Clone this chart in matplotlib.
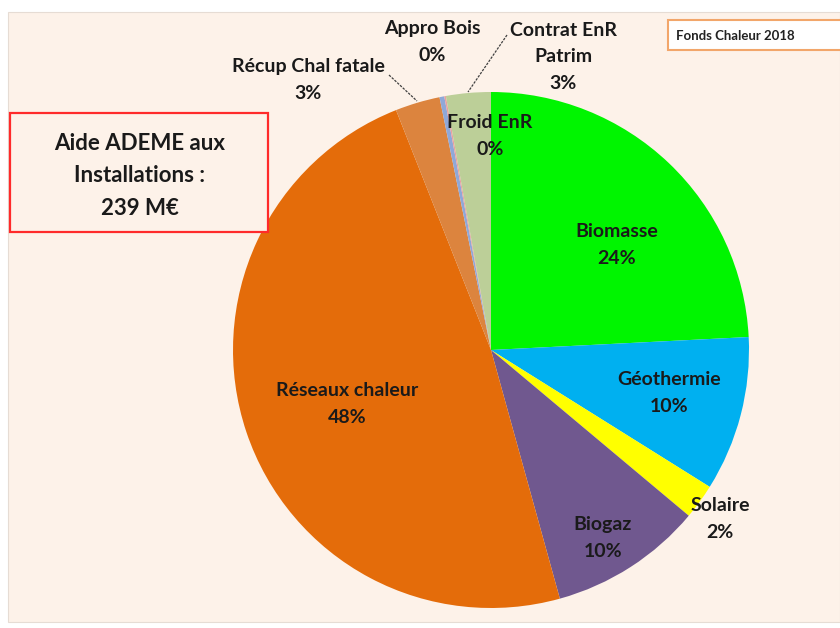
import matplotlib.pyplot as plt
from matplotlib.patches import Rectangle

plt.rcParams['font.family'] = ['Lato', 'DejaVu Sans']

# Fonds Chaleur 2018 - aide ADEME aux installations (parts en %)
categories = ["Biomasse", "Géothermie", "Solaire", "Biogaz", "Réseaux chaleur",
              "Récup Chal fatale", "Appro Bois", "Froid EnR", "Contrat EnR\nPatrim"]
values = [24.2, 9.7, 2.2, 9.6, 48.3, 2.8, 0.3, 0.1, 2.8]
colors = ["#00f500", "#00b0f0", "#ffff00", "#70588f", "#e46c0a",
          "#dc843e", "#8fa8d8", "#e8a0a0", "#bccf98"]

# label positions in pixels (x, y from top)
label_pos = [(617, 245), (669, 393), (720, 519), (603, 538), (347, 404),
             (308, 80), (432, 42), (490, 136), (563, 57)]

W, H = 840, 628
fig = plt.figure(figsize=(8.4, 6.28), dpi=100)
fig.patch.set_facecolor("white")
ax = fig.add_axes([0, 0, 1, 1])

# cream panel
ax.add_patch(Rectangle((8, H - 622), W - 8, 610, facecolor="#fdf2e9",
                       edgecolor="#e6dcd4", lw=0.8, zorder=0))

cx, cy, r = 491, H - 350, 258
ax.pie(values, colors=colors, startangle=90, counterclock=False,
       center=(cx, cy), radius=r, frame=True,
       wedgeprops=dict(linewidth=0))
ax.set_xlim(0, W)
ax.set_ylim(0, H)
ax.set_aspect("equal")
ax.axis("off")

for name, v, (px, py) in zip(categories, values, label_pos):
    ax.text(px, H - py, f"{name}\n{round(v)}%", ha="center", va="center",
            fontsize=14, fontweight="bold", color="#1a1a1a",
            linespacing=1.65, zorder=5)

# leader lines
ax.plot([389, 417], [H - 75, H - 101], color="#404040", lw=0.9,
        ls=(0, (2, 1)), zorder=4)
ax.plot([507, 468], [H - 35, H - 92], color="#404040", lw=0.9,
        ls=(0, (2, 1)), zorder=4)

# box "Aide ADEME"
ax.add_patch(Rectangle((10, H - 232), 258, 119, facecolor="#fdf2e9",
                       edgecolor="#ff2a2a", lw=1.6, zorder=3))
ax.text(140, H - 176, "Aide ADEME aux\nInstallations :\n239 M€", ha="center",
        va="center", fontsize=16, fontweight="bold", color="#1a1a1a",
        linespacing=1.65, zorder=5)

# title box
ax.add_patch(Rectangle((668, H - 50), 180, 30, facecolor="white",
                       edgecolor="#f2a66a", lw=1.5, zorder=3))
ax.text(676, H - 36, "Fonds Chaleur 2018", ha="left", va="center",
        fontsize=9.5, fontweight="bold", color="#222222", zorder=5)

fig.savefig("out.png", dpi=100, facecolor=fig.get_facecolor())
